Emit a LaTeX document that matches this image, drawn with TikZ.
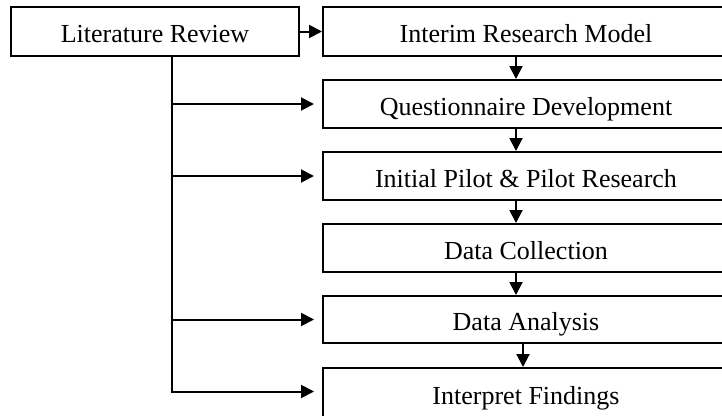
\documentclass[tikz,border=0pt]{standalone}
\usepackage{fontspec}
\setmainfont{Liberation Serif}
\usetikzlibrary{arrows.meta}
\begin{document}
\begin{tikzpicture}[x=1pt,y=-1pt,
  box/.style={draw,line width=2pt,inner sep=0pt,text height=22pt,text depth=0pt,
    font=\fontsize{26}{30}\selectfont},
  rbox/.style={box,minimum width=406pt},
  conn/.style={line width=2pt},
  arr/.style={conn,-{Triangle[length=13pt,width=13pt]}}]
\useasboundingbox (0,0) rectangle (722,415);
\clip (0,0) rectangle (722,415);
\node[box,minimum width=288pt,minimum height=49pt] (lit) at (155,31.5) {Literature Review};
\node[rbox,minimum height=49pt] (interim) at (526,31.5) {Interim Research Model};
\node[rbox,minimum height=48pt] (quest) at (526,104) {Questionnaire Development};
\node[rbox,minimum height=48pt] (pilot) at (526,176) {Initial Pilot \& Pilot Research};
\node[rbox,minimum height=48pt] (collect) at (526,248) {Data Collection};
\node[rbox,minimum height=47pt] (analysis) at (526,319.5) {Data Analysis};
\node[rbox,minimum height=50pt] (interp) at (526,393) {Interpret Findings};
% top link
\draw[arr] (lit.east) -- (interim.west);
% vertical chain
\draw[arr] ([xshift=-10pt]interim.south) -- ([xshift=-10pt]quest.north);
\draw[arr] ([xshift=-10pt]quest.south) -- ([xshift=-10pt]pilot.north);
\draw[arr] ([xshift=-10pt]pilot.south) -- ([xshift=-10pt]collect.north);
\draw[arr] ([xshift=-10pt]collect.south) -- ([xshift=-10pt]analysis.north);
\draw[arr] ([xshift=-3pt]analysis.south) -- ([xshift=-3pt]interp.north);
% trunk from literature review
\coordinate (ltop) at ([xshift=16.5pt]lit.south);
\coordinate (lbot) at (171.5,391.5);
\draw[conn] (ltop) -- (lbot);
\draw[arr] (ltop |- quest.west) -- ([xshift=-8pt]quest.west);
\draw[arr] (ltop |- pilot.west) -- ([xshift=-8pt]pilot.west);
\draw[arr] (ltop |- analysis.west) -- ([xshift=-8pt]analysis.west);
\draw[arr] ([xshift=-1pt]lbot) -- ([xshift=-8pt]interp.west |- lbot);
\end{tikzpicture}
\end{document}
